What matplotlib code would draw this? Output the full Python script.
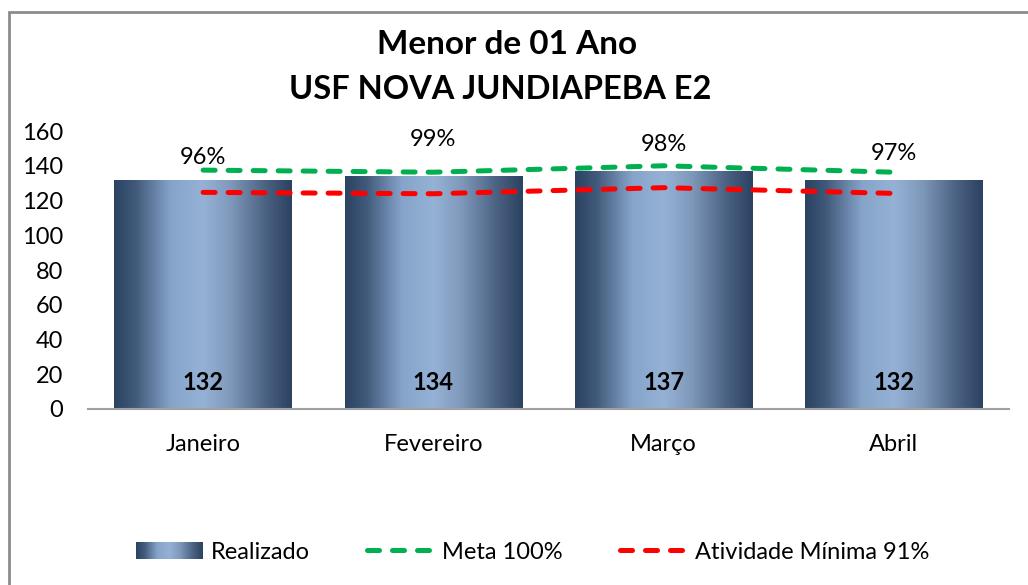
import numpy as np
import matplotlib.pyplot as plt
from matplotlib.colors import LinearSegmentedColormap
from matplotlib.patches import Rectangle
from matplotlib.lines import Line2D
from matplotlib.legend_handler import HandlerBase
from matplotlib.image import BboxImage
from matplotlib.transforms import Bbox, TransformedBbox

plt.rcParams['font.family'] = ['Lato', 'DejaVu Sans']

# dados
meses = ['Janeiro', 'Fevereiro', 'Março', 'Abril']
realizado = [132, 134, 137, 132]
meta = [137.5, 136.3, 140.0, 136.3]          # Meta 100%
minima = [124.7, 123.9, 127.4, 124.1]        # Atividade Mínima 91%
percentuais = ['96%', '99%', '98%', '97%']

# degradê das barras (escuro nas bordas, claro no meio)
cores = [(0.0, '#2b4261'), (0.12, '#415a7b'), (0.32, '#86a3c9'),
         (0.5, '#95b2d6'), (0.66, '#7e98ba'), (0.85, '#4b6283'), (1.0, '#2b4261')]
cmap = LinearSegmentedColormap.from_list('barra', cores)
grad = np.linspace(0, 1, 256).reshape(1, -1)

fig = plt.figure(figsize=(10.28, 5.85), dpi=100)
ax = fig.add_axes([0.0856, 0.3009, 0.8959, 0.4751])

x = np.arange(len(meses))
largura = 0.77
barras = ax.bar(x, realizado, width=largura, color='none', edgecolor='none')
for b in barras:
    x0, y0 = b.get_x(), b.get_y()
    im = ax.imshow(grad, cmap=cmap, aspect='auto', interpolation='bilinear',
                   extent=(x0, x0 + b.get_width(), y0, y0 + b.get_height()), zorder=1)
    im.set_clip_path(b)

# rótulos dentro das barras
for xi, v in zip(x, realizado):
    ax.text(xi, 15.5, str(v), ha='center', va='center', fontsize=17,
            fontweight='bold', color='black', zorder=4)

tracos = (2.4, 2.6)
ax.plot(x, meta, color='#00b050', lw=3.6, dashes=tracos,
        dash_capstyle='round', zorder=3)
ax.plot(x, minima, color='#ff0000', lw=3.6, dashes=tracos,
        dash_capstyle='round', zorder=3)

# percentuais acima das linhas
pos_perc = [144.5, 155, 152.5, 147]
for xi, p, yp in zip(x, percentuais, pos_perc):
    ax.text(xi, yp, p, ha='center', va='center', fontsize=17, zorder=4)

ax.set_xlim(-0.5, 3.5)
ax.set_ylim(0, 160)
ax.set_yticks(range(0, 161, 20))
ax.set_xticks(x)
ax.set_xticklabels(meses)
ax.tick_params(axis='both', length=0, labelsize=17)
ax.tick_params(axis='x', pad=18)
ax.tick_params(axis='y', pad=18)
for s in ['top', 'right', 'left']:
    ax.spines[s].set_visible(False)
ax.spines['bottom'].set_color('#a0a0a0')
ax.spines['bottom'].set_linewidth(1.5)

fig.text(0.4935, 0.924, 'Menor de 01 Ano', ha='center', va='center',
         fontsize=24, fontweight='bold')
fig.text(0.4865, 0.847, 'USF NOVA JUNDIAPEBA E2', ha='center', va='center',
         fontsize=23.5, fontweight='bold')

# borda do gráfico
fig.patches.append(Rectangle((9 / 1028, -0.5), 2, 1 - 12 / 585 + 0.5,
                             transform=fig.transFigure, fill=False,
                             edgecolor='#8c8c8c', lw=2))


class HandlerGradiente(HandlerBase):
    def create_artists(self, legend, orig, xdescent, ydescent, width, height, fontsize, trans):
        bb = Bbox.from_bounds(-xdescent, -ydescent, width, height)
        img = BboxImage(TransformedBbox(bb, trans), cmap=cmap, interpolation='bilinear')
        img.set_data(grad)
        return [img]


proxy = Rectangle((0, 0), 1, 1)
h_meta = Line2D([], [], color='#00b050', lw=3.6, dashes=tracos, dash_capstyle='round')
h_min = Line2D([], [], color='#ff0000', lw=3.6, dashes=tracos, dash_capstyle='round')
fig.legend([proxy, h_meta, h_min], ['Realizado', 'Meta 100%', 'Atividade Mínima 91%'],
           handler_map={Rectangle: HandlerGradiente()},
           loc='center', bbox_to_anchor=(0.518, 0.056), ncol=3, frameon=False,
           fontsize=17, handlelength=2.8, handletextpad=0.4, columnspacing=2.4)

fig.savefig('out.png', dpi=100)
